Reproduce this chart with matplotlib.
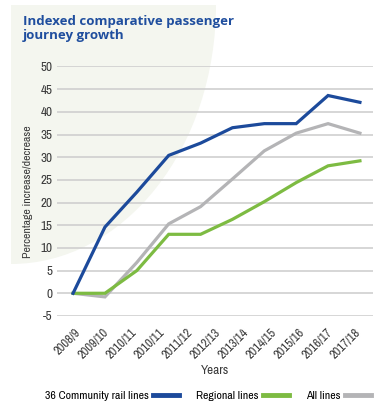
import numpy as np
import matplotlib.pyplot as plt
from matplotlib.lines import Line2D
from matplotlib.patches import Ellipse

years = ["2008/9", "2009/10", "2010/11", "2010/11", "2011/12", "2012/13",
         "2013/14", "2014/15", "2015/16", "2016/17", "2017/18"]
community = [0, 14.6, 22.3, 30.4, 33.1, 36.5, 37.4, 37.4, 43.6, 42.1]
regional = [0, 0, 5.0, 13.0, 13.0, 16.3, 20.2, 24.4, 28.1, 29.2]
all_lines = [0, -0.8, 6.8, 15.3, 19.1, 25.2, 31.4, 35.3, 37.4, 35.3]
yticks = list(range(-5, 51, 5))

narrow = ["Archivo Narrow", "DejaVu Sans"]
blue = "#1c4a9b"
green = "#7dbb42"
grey = "#b4b4b6"
txtc = "#3a3a3a"

fig = plt.figure(figsize=(3.81, 4.03), dpi=100)

# pale background shape behind title
bg = fig.add_axes([0, 0, 1, 1], zorder=-1)
bg.set_xlim(0, 381)
bg.set_ylim(403, 0)
bg.axis("off")
clip = plt.Rectangle((11, 5), 370, 398, transform=bg.transData)
shape = Ellipse((11, 5), 2 * 205, 2 * 259, facecolor="#f4f6ef", edgecolor="none")
bg.add_patch(shape)
shape.set_clip_path(clip)

ax = fig.add_axes([0.150, 0.216, 0.829, 0.619])
ax.patch.set_alpha(0)

x = np.arange(len(community))
ax.plot(x, all_lines, color=grey, lw=2.3, solid_joinstyle="miter")
ax.plot(x, regional, color=green, lw=2.3, solid_joinstyle="miter")
ax.plot(x, community, color=blue, lw=2.3, solid_joinstyle="miter")

ax.set_ylim(-5, 50)
ax.set_xlim(-0.5, 9.41)
ax.set_yticks(yticks)
ax.set_yticklabels([str(v) for v in yticks], family=narrow, fontsize=9.5, color=txtc)
ax.set_xticks(np.linspace(0.28, 9.09, len(years)))
ax.set_xticklabels(years, rotation=45, ha="right", family=narrow, fontsize=9,
                   color=txtc)
ax.tick_params(length=0)
ax.tick_params(axis="x", pad=7.5)
ax.tick_params(axis="y", pad=3.5)
ax.grid(axis="y", color="#cfcfcf", lw=1.2)
ax.set_axisbelow(True)
for s in ax.spines.values():
    s.set_visible(False)

ax.set_ylabel("Percentage increase/decrease", family=narrow, fontsize=8.5, color=txtc,
              labelpad=5)
ax.set_xlabel("Years", family=narrow, fontsize=9.5, color=txtc, labelpad=3)

fig.text(0.06, 1 - 15 / 403, "Indexed comparative passenger\njourney growth",
         ha="left", va="top", fontsize=9.5, fontweight="bold", family="Open Sans",
         color="#1f4e9e", linespacing=1.05)

handles = [Line2D([], [], color=c, lw=3.5) for c in (blue, green, grey)]
labels = ["36 Community rail lines", "Regional lines", "All lines"]
fig.legend(handles, labels, loc="center", bbox_to_anchor=(0.546, 1 - 396 / 403),
           ncol=3, frameon=False, markerfirst=False, handlelength=2.2,
           columnspacing=1.4, handletextpad=0.42,
           prop={"family": narrow, "size": 8.5})

fig.savefig("out.png", dpi=100)
plt.close()
